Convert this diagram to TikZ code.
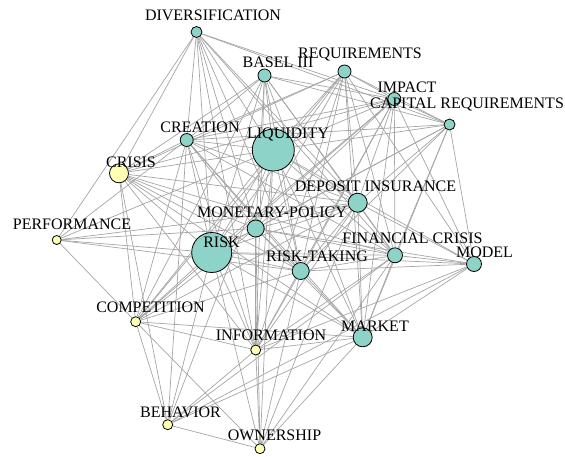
\documentclass[tikz,border=0pt]{standalone}
\usepackage{fontspec}
\setmainfont{Liberation Serif}
\definecolor{teal}{HTML}{8DD3C7}
\definecolor{pale}{HTML}{FFFFB3}
\definecolor{edgegray}{RGB}{165,165,165}
\pgfdeclarelayer{bg}
\pgfsetlayers{bg,main}
\tikzset{
  vert/.style={circle,draw=black,line width=0.8pt,inner sep=0pt,minimum size=#1},
  tv/.style={vert=#1,fill=teal},
  yv/.style={vert=#1,fill=pale},
  lab/.style={inner sep=0pt,font=\fontsize{16}{16}\selectfont},
  edge/.style={draw=edgegray,line width=0.7pt}
}
\begin{document}
\begin{tikzpicture}[x=1pt,y=-1pt]
\useasboundingbox (0,0) rectangle (565,456);
% vertices
\node[tv=11pt] (div) at (196.5,32) {};
\node[tv=13pt] (bas) at (264.5,75.5) {};
\node[tv=13pt] (req) at (344.5,71.5) {};
\node[tv=13pt] (imp) at (394.3,99) {};
\node[tv=11pt] (cap) at (449.5,124.5) {};
\node[tv=13pt] (cre) at (186.7,140) {};
\node[tv=42pt] (liq) at (273.3,150) {};
\node[yv=19pt] (cri) at (119,173.3) {};
\node[yv=9pt] (per) at (56.7,240) {};
\node[tv=19pt] (dep) at (357.7,202.7) {};
\node[tv=17pt] (mon) at (255.7,228.5) {};
\node[tv=40pt] (rsk) at (211.7,252.5) {};
\node[tv=17pt] (rt) at (300.7,271) {};
\node[tv=15pt] (fc) at (395,255.3) {};
\node[tv=15pt] (mod) at (474,264) {};
\node[tv=19pt] (mkt) at (362.7,337.3) {};
\node[yv=10pt] (com) at (135.7,321.7) {};
\node[yv=10pt] (inf) at (255.7,350) {};
\node[yv=10pt] (beh) at (167.7,424.7) {};
\node[yv=10pt] (own) at (260,448.7) {};
% edges
\begin{pgfonlayer}{bg}
\foreach \a/\b in {
 div/per, div/cri, div/cre, div/rsk, div/inf, div/mon, div/rt, div/liq, div/dep, div/fc, div/imp, div/cap,
 bas/cri, bas/cre, bas/liq, bas/rsk, bas/mon, bas/rt, bas/dep, bas/mkt, bas/inf, bas/com, bas/imp, bas/cap, bas/fc,
 req/cre, req/cri, req/liq, req/mon, req/rsk, req/rt, req/dep, req/fc, req/mkt, req/inf, req/imp, req/cap, req/mod, req/com,
 imp/cre, imp/cri, imp/liq, imp/rsk, imp/mon, imp/rt, imp/com, imp/dep, imp/fc, imp/mkt, imp/mod, imp/cap, imp/inf,
 cap/cre, cap/liq, cap/dep, cap/rsk, cap/rt, cap/fc, cap/mkt, cap/mod, cap/mon,
 cre/cri, cre/liq, cre/mon, cre/rsk, cre/rt, cre/dep, cre/fc, cre/mkt, cre/inf, cre/com, cre/per, cre/beh,
 liq/cri, liq/per, liq/dep, liq/mon, liq/rsk, liq/rt, liq/fc, liq/mod, liq/mkt, liq/inf, liq/com, liq/beh, liq/own,
 cri/dep, cri/mon, cri/rsk, cri/rt, cri/fc, cri/com, cri/beh, cri/inf, cri/mkt,
 per/rsk, per/rt, per/dep, per/com, per/mon,
 dep/mon, dep/rsk, dep/rt, dep/fc, dep/mod, dep/mkt, dep/inf, dep/com, dep/own,
 mon/rsk, mon/rt, mon/fc, mon/mkt, mon/inf, mon/com, mon/own, mon/mod,
 rsk/rt, rsk/fc, rsk/mod, rsk/mkt, rsk/inf, rsk/com, rsk/beh, rsk/own,
 rt/fc, rt/mod, rt/mkt, rt/inf, rt/com, rt/own,
 fc/mod, fc/mkt, fc/inf, fc/own, fc/beh,
 mod/mkt, mod/beh, mod/inf,
 com/inf, com/mkt, com/beh, com/own,
 inf/mkt, inf/own, inf/beh,
 mkt/own, mkt/beh,
 beh/own}
 \draw[edge] (\a) -- (\b);
\end{pgfonlayer}
% labels
\node[lab] (ldiv) at (213,15) {DIVERSIFICATION};
\node[lab] (lbas) at (278,62.5) {BASEL III};
\node[lab] (lreq) at (360,54.5) {REQUIREMENTS};
\node[lab] (limp) at (407,87.5) {IMPACT};
\node[lab] (lcap) at (467,104) {CAPITAL REQUIREMENTS};
\node[lab] (lcre) at (200,127) {CREATION};
\node[lab] (lliq) at (288,134) {LIQUIDITY};
\node[lab] (lcri) at (131,162) {CRISIS};
\node[lab] (lper) at (72,224) {PERFORMANCE};
\node[lab] (ldep) at (375.5,186) {DEPOSIT INSURANCE};
\node[lab] (lmon) at (272,212) {MONETARY-POLICY};
\node[lab] (lrsk) at (221.5,242.5) {RISK};
\node[lab] (lrt) at (317,256) {RISK-TAKING};
\node[lab] (lfc) at (412.5,238) {FINANCIAL CRISIS};
\node[lab] (lmod) at (484.5,252.5) {MODEL};
\node[lab] (lcom) at (150.5,307) {COMPETITION};
\node[lab] (linf) at (271,335.5) {INFORMATION};
\node[lab] (lmkt) at (375,326) {MARKET};
\node[lab] (lbeh) at (180.5,412) {BEHAVIOR};
\node[lab] (lown) at (274.5,435) {OWNERSHIP};
\end{tikzpicture}
\end{document}
